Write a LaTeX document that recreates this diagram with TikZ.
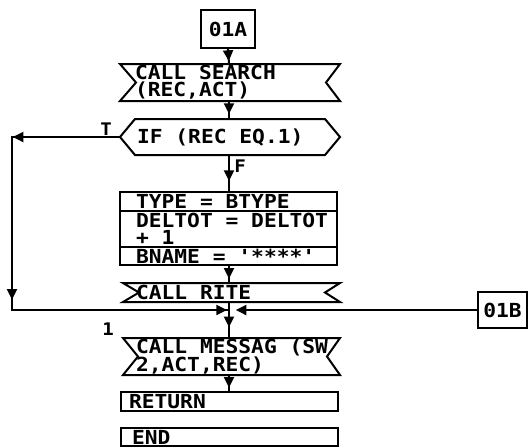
\documentclass[tikz,border=0pt]{standalone}
\usepackage{fontspec}
\newfontfamily\plotfont[FakeStretch=1.1]{DejaVu Sans Mono}
\newcommand{\ptf}{\fontsize{14.5pt}{13pt}\selectfont\plotfont\bfseries}
\newcommand{\plf}{\fontsize{13pt}{13pt}\selectfont\plotfont\bfseries}
\usetikzlibrary{arrows.meta,decorations.markings}
\begin{document}
\begin{tikzpicture}[x=0.75pt,y=-0.75pt,line width=1.5pt,line join=miter,
  txt/.style={font=\ptf, inner sep=0pt, anchor=west, align=left},
  lbl/.style={font=\plf, inner sep=0pt},
  boxn/.style={draw, inner sep=0pt},
  arrowtip/.style={-{Triangle[width=7.5pt,length=8pt]}},
  flow/.style={decoration={markings,mark=at position #1 with {\arrow{Triangle[width=7.5pt,length=8pt]}}},postaction={decorate}},
  flow/.default=0.72]
\useasboundingbox (0,0) rectangle (528,447);

% connector 01A
\node[boxn, minimum width=40.5pt, minimum height=28.5pt, font=\ptf] (a01) at (228,29) {01A};

% CALL SEARCH
\draw (120,64) -- (340,64) -- (326,82.5) -- (340,101) -- (120,101) -- (136,82.5) -- cycle;
\coordinate (srchN) at (229,64);
\coordinate (srchS) at (229,101);
\node[txt] (srch) at (134,82.5) {CALL SEARCH\\(REC,ACT)};

% IF
\draw (120,137) -- (135,119) -- (325,119) -- (340,137) -- (325,155) -- (135,155) -- cycle;
\coordinate (ifN) at (229,119);
\coordinate (ifS) at (229,155);
\coordinate (ifW) at (120,137);
\node[txt] (iftxt) at (136,137) {IF (REC EQ.1)};
\node[lbl] (tl) at (106,129) {T};
\node[lbl] (fl) at (240,166) {F};

% assignment box
\node[boxn, minimum width=162.75pt, minimum height=54.75pt] (asg) at (228.5,228.5) {};
\coordinate (r1) at (120,211);
\coordinate (r2) at (120,247);
\draw (r1) -- (r1 -| asg.east);
\draw (r2) -- (r2 -| asg.east);
\node[txt] (t1) at (135,201.5) {TYPE = BTYPE};
\node[txt] (t2) at (135,228.5) {DELTOT = DELTOT\\+ 1};
\node[txt] (t3) at (135,256.5) {BNAME = \symbol{39}****\symbol{39}};

% CALL RITE
\draw (123,283) -- (340,283) -- (325,292.5) -- (340,302) -- (123,302) -- (139,292.5) -- cycle;
\coordinate (riteN) at (229,283);
\coordinate (riteS) at (229,302);
\node[txt] (rite) at (135,292.5) {CALL RITE};

% junction and loop
\coordinate (c1) at (12,137);
\coordinate (c2) at (12,310);
\coordinate (jn) at (229,310);
\draw[decoration={markings,
   mark=at position 80.5pt with {\arrow{Triangle[width=7.5pt,length=8pt]}},
   mark=at position 203pt with {\arrow{Triangle[width=7.5pt,length=8pt]}},
   mark=at position 372pt with {\arrow{Triangle[width=7.5pt,length=8pt]}}},
   postaction={decorate}] (ifW) -- (c1) -- (c2) -- (jn);
\node[lbl] (onel) at (108,329) {1};

% connector 01B
\node[boxn, minimum width=36.75pt, minimum height=27pt, font=\ptf] (b01) at (502.5,310) {01B};
\draw[arrowtip, shorten >=5pt] (b01.west) -- (jn);

% CALL MESSAG
\draw (123,338) -- (340,338) -- (327,356.5) -- (340,375) -- (123,375) -- (138,356.5) -- cycle;
\coordinate (msgN) at (229,338);
\coordinate (msgS) at (229,375);
\node[txt] (msg) at (135,356.5) {CALL MESSAG (SW\\2,ACT,REC)};

% RETURN, END
\node[boxn, minimum width=162.75pt, minimum height=14.25pt] (ret) at (229.5,401.5) {};
\node[txt] (rett) at (128,401.5) {RETURN};
\node[boxn, minimum width=162.75pt, minimum height=13.5pt] (endb) at (229.5,437) {};
\node[txt] (endt) at (131,437) {END};

% main flow
\draw[flow=0.8] (a01.south) -- (srchN);
\draw[flow=0.72] (srchS) -- (ifN);
\draw[flow] (ifS) -- (asg.north -| ifS);
\draw[flow=0.75] (asg.south -| riteN) -- (riteN);
\draw[flow=0.7] (riteS) -- (msgN);
\draw[flow=0.8] (msgS) -- (ret.north -| msgS);
\end{tikzpicture}
\end{document}
